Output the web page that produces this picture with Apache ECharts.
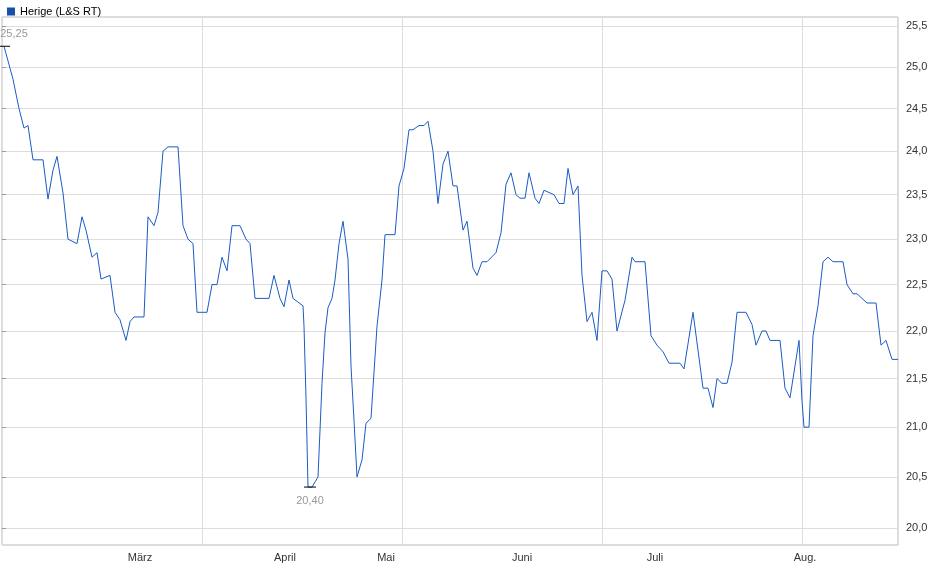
<!DOCTYPE html>
<html><head><meta charset="utf-8">
<script src="https://cdn.jsdelivr.net/npm/echarts@6/dist/echarts.min.js"></script>
<style>html,body{margin:0;padding:0;background:#fff}#c{width:940px;height:579px}</style>
</head><body><div id="c"></div>
<script>
// trading-day index (x) and price (y)
const days = [0.5,2.75,4.25,5.5,6.5,7.75,10.25,11.5,12.75,13.75,15.25,16.5,18.75,20,21,22.5,23.75,24.75,27,28.25,29.5,31,32,33,35.5,36.5,38,39,40.25,41.5,44,45.25,46.5,47.75,48.75,51.25,52.5,53.75,55,56.25,57.5,59.5,61,62,63.25,66.75,68,69.5,70.5,71.75,72.75,75.25,75.5,76,76.5,77.5,79,80,80.75,81.5,82.5,83.25,84.25,85.25,86.5,87.25,88,88.75,90,91,92.25,93.75,95,95.75,98.25,99.25,100.5,101.75,102.75,104.25,105.5,106.5,107.75,109,110.25,111.5,112.75,113.75,115.25,116.25,117.75,118.75,120,121.25,123.5,124.75,126,127.25,128.5,129.5,130.75,131.75,133.25,134.25,135.5,138,139.25,140.5,141.5,142.75,144,145,146.25,147.5,148.75,150,151.25,152.5,153.75,155.75,157.5,158.25,160.75,162.25,163.75,165.25,166.75,169.5,170.5,172.75,175.25,176.5,177.75,178.75,180,181.25,182.5,183.75,186,187.5,188.5,190,191,192,194.5,195.75,197,199.25,200,200.5,201.75,202.75,204,205.25,206.5,207.75,210.25,211.25,212.75,213.75,216.25,218.5,219.75,221,222.5,224];
const prices = [25.25,24.85,24.5,24.27,24.3,23.9,23.9,23.45,23.78,23.94,23.52,23.0,22.95,23.25,23.1,22.8,22.85,22.56,22.6,22.2,22.12,21.9,22.1,22.15,22.15,23.25,23.15,23.3,24.0,24.05,24.05,23.15,23.0,22.95,22.2,22.2,22.5,22.5,22.8,22.65,23.15,23.15,23.0,22.95,22.35,22.35,22.6,22.35,22.26,22.55,22.35,22.27,22.05,21.3,20.4,20.4,20.5,21.45,21.98,22.25,22.35,22.55,22.95,23.2,22.78,21.63,21.07,20.5,20.67,21.04,21.09,22.05,22.55,23.05,23.05,23.6,23.8,24.25,24.25,24.3,24.3,24.35,24.0,23.4,23.85,24.0,23.6,23.6,23.1,23.2,22.68,22.6,22.75,22.75,22.85,23.07,23.62,23.75,23.5,23.46,23.46,23.75,23.46,23.4,23.55,23.5,23.4,23.4,23.8,23.5,23.6,22.6,22.1,22.2,21.9,22.65,22.65,22.56,22.0,22.33,22.8,22.75,22.75,21.95,21.85,21.78,21.66,21.66,21.6,22.2,21.4,21.4,21.2,21.5,21.45,21.45,21.67,22.2,22.2,22.07,21.85,22.0,22.0,21.9,21.9,21.4,21.3,21.9,21.27,21.0,21.0,21.95,22.27,22.75,22.8,22.75,22.75,22.5,22.4,22.4,22.3,22.3,21.85,21.9,21.7,21.7];
const monthTicks = [34.5,70.75,96,130,163.25,200.75];
const monthLabels = ['März','April','Mai','Juni','Juli','Aug.'];
const yTicks = [20.0,20.5,21.0,21.5,22.0,22.5,23.0,23.5,24.0,24.5,25.0,25.5];
const seriesName = 'Herige (L&S RT)';

const L = Math.log;
const fmt = v => v.toFixed(2).replace('.', ',');
const data = days.map((d,i)=>[d, L(prices[i])]);
const ch = echarts.init(document.getElementById('c'));
ch.setOption({
  animation:false,
  textStyle:{fontFamily:'Arial, Liberation Sans, sans-serif'},
  legend:{left:2,top:1,icon:'rect',itemWidth:8,itemHeight:8,itemGap:4,
    textStyle:{fontSize:11,color:'#000'},data:[seriesName]},
  grid:{left:2,right:42,top:17,bottom:34,show:true,borderColor:'#bbb',borderWidth:1},
  xAxis:{type:'value',min:0,max:224,
    axisLine:{show:false},axisTick:{show:false},
    axisLabel:{customValues:monthTicks,fontSize:11,color:'#333',margin:7,
      formatter:v=>monthLabels[monthTicks.indexOf(v)]},
    splitLine:{show:true,lineStyle:{color:'#ddd'}},
  },
  yAxis:{type:'value',position:'right',min:L(19.836),max:L(25.61),
    axisLine:{show:false},
    axisTick:{show:true,customValues:yTicks.map(L),length:4,lineStyle:{color:'#999'}},
    axisLabel:{customValues:yTicks.map(L),fontSize:11,color:'#333',margin:8,
      formatter:v=>Math.exp(v).toFixed(1).replace('.',',')},
    splitLine:{show:true,lineStyle:{color:'#ddd'}}
  },
  series:[{name:seriesName,type:'line',data:data,symbol:'none',
    lineStyle:{color:'#1a5bc4',width:1},itemStyle:{color:'#1a4fa8',borderColor:'#0a2a70'},
    markPoint:{symbol:'rect',symbolSize:[12,1],itemStyle:{color:'#000'},
      data:[
        {coord:[0.5,L(25.25)],label:{show:true,position:'top',offset:[10,-1],formatter:fmt(25.25),color:'#999',fontSize:11}},
        {coord:[77,L(20.4)],label:{show:true,position:'bottom',offset:[0,3],formatter:fmt(20.4),color:'#999',fontSize:11}}
      ]}
  }]
});
</script></body></html>
